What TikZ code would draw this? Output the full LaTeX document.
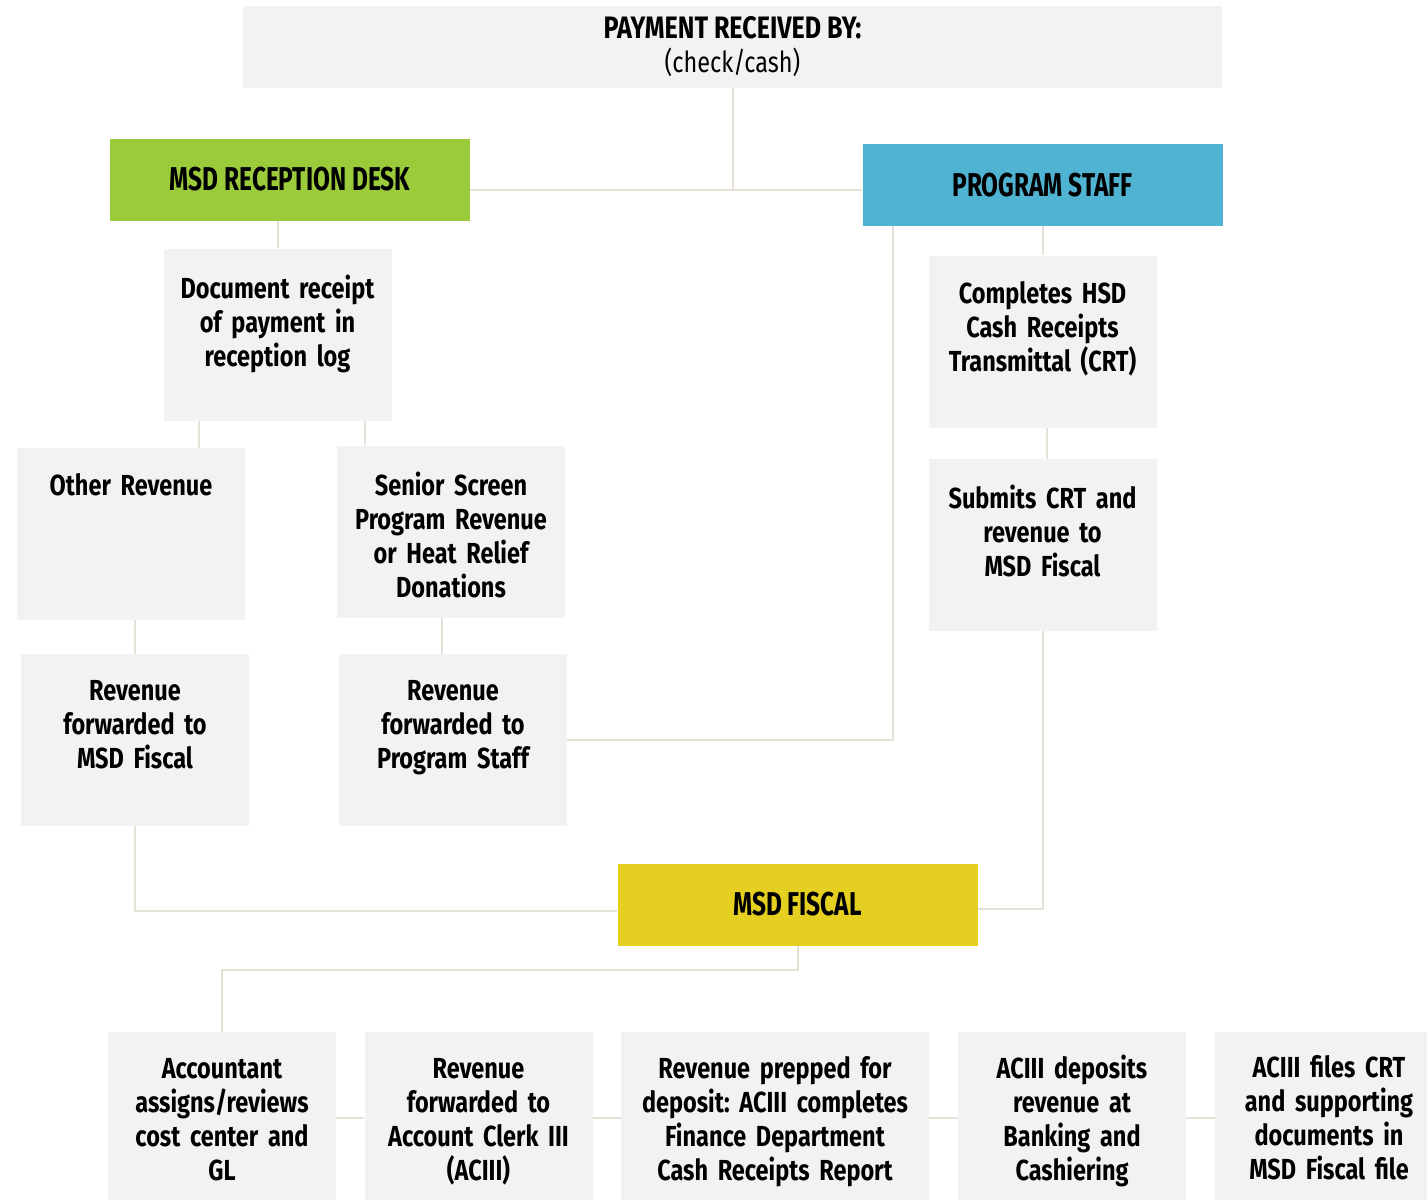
\documentclass[tikz,border=0pt]{standalone}
\usepackage{fontspec}
\setmainfont{Fira Sans}[FakeStretch=0.81]
\newfontfamily\headfont{Fira Sans}[FakeStretch=0.74]
\usepackage{tikz}
\usetikzlibrary{positioning}
\frenchspacing

\definecolor{boxgray}{HTML}{F2F2F2}
\definecolor{linegray}{HTML}{E6E2D8}
\definecolor{recgreen}{HTML}{9BCB3B}
\definecolor{staffblue}{HTML}{4FB3D1}
\definecolor{fiscyellow}{HTML}{E5D022}

\begin{document}
\begin{tikzpicture}[x=0.5pt, y=-0.5pt,
    box/.style={fill=boxgray, minimum width=114pt, minimum height=86pt, inner sep=0pt},
    head/.style={minimum width=180pt, minimum height=41pt, inner sep=0pt,
        font=\headfont\bfseries\fontsize{16.5}{20}\selectfont},
    txt/.style={text width=170pt, align=center, inner sep=0pt,
        font=\bfseries\fontsize{14.5}{17}\selectfont},
    link/.style={draw=linegray, line width=1pt}]
    \useasboundingbox (0,0) rectangle (1427,1199);

    % Top box
    \node[fill=boxgray, minimum width=489.5pt, minimum height=41pt, inner sep=0pt,
        align=center, font=\fontsize{14.5}{17}\selectfont] (pay) at (732.5,47)
        {{\fontsize{15.5}{17}\selectfont\textbf{PAYMENT RECEIVED BY:}}\\(check/cash)};

    % Headers
    \node[head, fill=recgreen] (rec) at (290,179.5) {MSD RECEPTION DESK};
    \node[head, fill=staffblue] (prog) at (1042.5,185) {PROGRAM STAFF};
    \node[head, fill=fiscyellow] (fis) at (797.5,904.5) {MSD FISCAL};

    % Reception side
    \node[box] (doc) at (277.5,334.5) {};
    \node[txt, below=13pt of doc.north] (doc-t) {Document receipt\\of payment in\\reception log};
    \node[box] (oth) at (131,534) {};
    \node[txt, below=13pt of oth.north] (oth-t) {Other Revenue};
    \node[box] (sen) at (451,531.5) {};
    \node[txt, below=13pt of sen.north] (sen-t) {Senior Screen\\Program Revenue\\or Heat Relief\\Donations};
    \node[box] (rvf) at (135,740) {};
    \node[txt, below=13pt of rvf.north] (rvf-t) {Revenue\\forwarded to\\MSD Fiscal};
    \node[box] (rvp) at (453,740) {};
    \node[txt, below=13pt of rvp.north] (rvp-t) {Revenue\\forwarded to\\Program Staff};

    % Program staff side
    \node[box] (cmp) at (1042.5,341.5) {};
    \node[txt, below=13pt of cmp.north] (cmp-t) {Completes HSD\\Cash Receipts\\Transmittal (CRT)};
    \node[box] (sub) at (1042.5,545) {};
    \node[txt, below=13pt of sub.north] (sub-t) {Submits CRT and\\revenue to\\MSD Fiscal};

    % Fiscal steps
    \node[box] (acc) at (222,1118) {};
    \node[txt, below=13pt of acc.north] (acc-t) {Accountant\\assigns/reviews\\cost center and\\GL};
    \node[box] (clk) at (478.5,1118) {};
    \node[txt, below=13pt of clk.north] (clk-t) {Revenue\\forwarded to\\Account Clerk III\\(ACIII)};
    \node[box, minimum width=154pt] (dep) at (775,1118) {};
    \node[txt, below=12pt of dep.north] (dep-t) {Revenue prepped for\\deposit: ACIII completes\\Finance Department\\Cash Receipts Report};
    \node[box] (bnk) at (1072,1118) {};
    \node[txt, below=11.5pt of bnk.north] (bnk-t) {ACIII deposits\\revenue at\\Banking and\\Cashiering};
    \node[box] (fil) at (1329,1118) {};
    \node[txt, below=11.5pt of fil.north] (fil-t) {ACIII files CRT\\and supporting\\documents in\\MSD Fiscal file};

    % Connectors
    \coordinate (j) at (732.5,190);
    \coordinate (k) at (797.5,970);
    \draw[link] (pay.south) -- (j);
    \draw[link] (rec.east |- j) -- (prog.west |- j);
    \draw[link] (doc.north |- rec.south) -- (doc.north);
    \draw[link] ([xshift=18pt]doc.south west) -- ([xshift=18pt]doc.south west |- oth.north);
    \draw[link] ([xshift=-13.5pt]doc.south east) -- ([xshift=-13.5pt]doc.south east |- sen.north);
    \draw[link] (rvf.north |- oth.south) -- (rvf.north);
    \draw[link] ([xshift=-5.5pt]rvp.north |- sen.south) -- ([xshift=-5.5pt]rvp.north);
    \draw[link] (rvp.east) -| ([xshift=15.5pt]prog.south west);
    \draw[link] (prog.south) -- (cmp.north);
    \draw[link] ([xshift=2pt]cmp.south) -- ([xshift=2pt]sub.north);
    \draw[link] (sub.south) |- ([yshift=-2pt]fis.east);
    \draw[link] (rvf.south) |- ([yshift=-3pt]fis.west);
    \draw[link] (fis.south) -- (k) -| (acc.north);
    \draw[link] (acc.east) -- (clk.west);
    \draw[link] (clk.east) -- (dep.west);
    \draw[link] (dep.east) -- (bnk.west);
    \draw[link] (bnk.east) -- (fil.west);
\end{tikzpicture}
\end{document}
